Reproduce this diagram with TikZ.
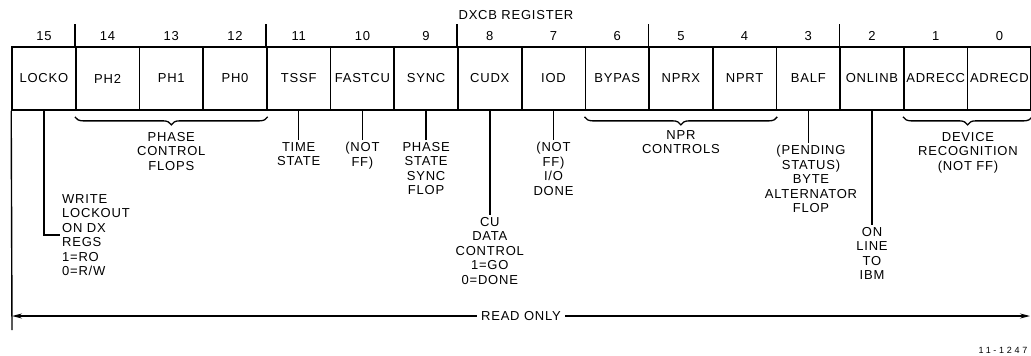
\documentclass[tikz,border=0pt]{standalone}
\usepackage{fontspec}
\setmainfont{Liberation Sans}[LetterSpace=6]
\usetikzlibrary{arrows.meta,decorations.pathreplacing}

\begin{document}
\begin{tikzpicture}[
  x=1pt,y=-1pt,
  >={Stealth[length=10pt,width=5pt]},
  font=\fontsize{13}{14.5}\selectfont,
  cell/.style={draw,line width=1.7pt,minimum width=63.7pt,minimum height=63pt,
               inner sep=0pt},
  note/.style={align=center,anchor=north,inner sep=2pt},
  tie/.style={line width=1.4pt},
  brc/.style={line width=1.3pt,decorate,
              decoration={brace,mirror,amplitude=8pt,raise=6pt}},
  label distance=3pt,
  every label/.style={inner sep=2pt},
]
\useasboundingbox (0,0) rectangle (1031,356);

\node (title) at (516,15) {DXCB REGISTER};

% the sixteen bits, 15 on the left
\node[cell,label=above:15] (locko)  at (43.9,78.5)  {LOCKO};
\node[cell,label=above:14] (phtwo)  at (107.6,78.5) {PH2};
\node[cell,label=above:13] (phone)  at (171.3,78.5) {PH1};
\node[cell,label=above:12] (phzero) at (235.0,78.5) {PH0};
\node[cell,label=above:11] (tssf)   at (298.7,78.5) {TSSF};
\node[cell,label=above:10] (fastcu) at (362.4,78.5) {FASTCU};
\node[cell,label=above:9]  (sync)   at (426.1,78.5) {SYNC};
\node[cell,label=above:8]  (cudx)   at (489.8,78.5) {CUDX};
\node[cell,label=above:7]  (iod)    at (553.5,78.5) {IOD};
\node[cell,label=above:6]  (bypas)  at (617.2,78.5) {BYPAS};
\node[cell,label=above:5]  (nprx)   at (680.9,78.5) {NPRX};
\node[cell,label=above:4]  (nprt)   at (744.6,78.5) {NPRT};
\node[cell,label=above:3]  (balf)   at (808.3,78.5) {BALF};
\node[cell,label=above:2]  (onlinb) at (872.0,78.5) {ONLINB};
\node[cell,label=above:1]  (adrecc) at (935.7,78.5) {ADRECC};
\node[cell,label=above:0]  (adrecd) at (999.4,78.5) {ADRECD};

% octal grouping ticks over the box
\draw[tie] (phtwo.north west) -- ++(0,-22);
\draw[tie] (tssf.north west)  -- ++(0,-22);
\draw[tie] (cudx.north west)  -- ++(0,-22);
\draw[tie] (nprx.north west)  -- ++(0,-22);
\draw[tie] (onlinb.north west) -- ++(0,-22);

% what the bits mean
\node[note,anchor=west,align=left] (locknote) at (60,235)
  {WRITE\\LOCKOUT\\ON DX\\REGS\\1=RO\\0=R/W};
\node[note] (phasenote) at (171.3,130) {PHASE\\CONTROL\\FLOPS};
\node[note] (tssfnote)  at (298.7,140) {TIME\\STATE};
\node[note] (fastnote)  at (362.4,140) {(NOT\\FF)};
\node[note] (syncnote)  at (426.1,140) {PHASE\\STATE\\SYNC\\FLOP};
\node[note] (cudxnote)  at (489.8,215) {CU\\DATA\\CONTROL\\1=GO\\0=DONE};
\node[note] (iodnote)   at (553.5,140) {(NOT\\FF)\\I/O\\DONE};
\node[note] (nprnote)   at (680.9,128) {NPR\\CONTROLS};
\node[note] (balfnote)  at (811,143)   {(PENDING\\STATUS)\\BYTE\\ALTERNATOR\\FLOP};
\node[note] (onlnote)   at (872.0,225) {ON\\LINE\\TO\\IBM};
\node[note] (devnote)   at (968,130)   {DEVICE\\RECOGNITION\\(NOT FF)};

\draw[tie] (locko.south) |- (locknote.west);
\draw[brc] (phtwo.south west) -- (phzero.south east);
\draw[tie] (tssf.south)   -- (tssfnote.north);
\draw[tie] (fastcu.south) -- (fastnote.north);
\draw[tie] (sync.south)   -- (syncnote.north);
\draw[tie] (cudx.south)   -- (cudxnote.north);
\draw[tie] (iod.south)    -- (iodnote.north);
\draw[brc] (bypas.south west) -- (nprt.south east);
\draw[tie] (balf.south)   -- (balf.south |- balfnote.north);
\draw[tie] (onlinb.south) -- (onlnote.north);
\draw[brc] (adrecc.south west) -- (adrecd.south east);

% the whole word is read only
\coordinate (rolow) at (12,330);
\coordinate (rol) at (12,316);
\coordinate (ror) at (1030,316);
\draw[tie] (locko.south west) -- (rolow);
\draw[tie,<->] (rol) -- (ror) node[midway,fill=white,inner sep=4pt] (ro) {READ ONLY};

\node[font=\fontsize{9}{10}\selectfont\addfontfeature{LetterSpace=30}]
  (figno) at (1003,350) {11-1247};

\end{tikzpicture}
\end{document}
